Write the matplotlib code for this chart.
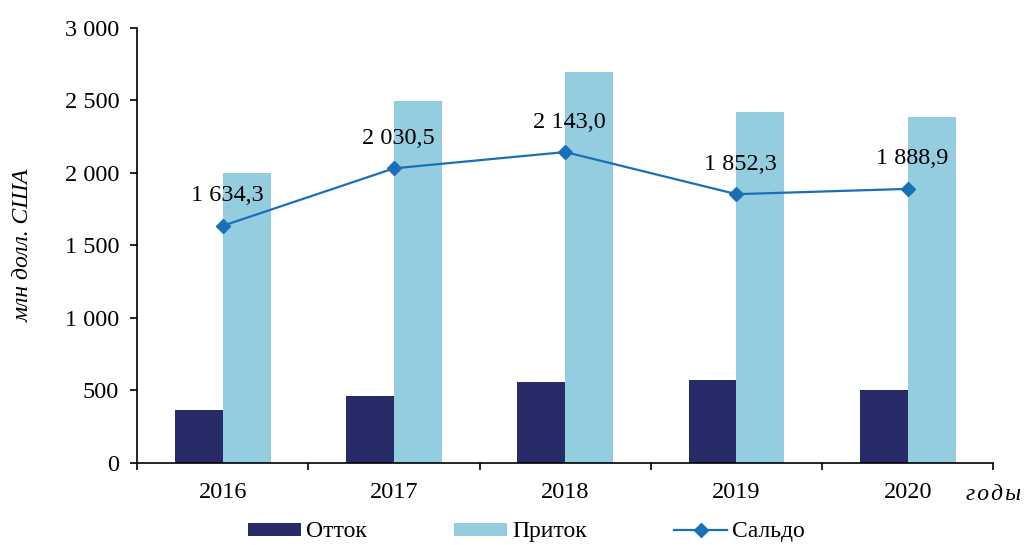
import matplotlib.pyplot as plt
import numpy as np
from matplotlib.ticker import FuncFormatter, FixedLocator

plt.rcParams['font.family'] = ['Liberation Serif', 'DejaVu Serif']

years = ['2016', '2017', '2018', '2019', '2020']
outflow = [367, 462, 554, 568, 501]
inflow = [1995, 2492, 2695, 2418, 2388]
balance = [1634.3, 2030.5, 2143.0, 1852.3, 1888.9]

dark = '#272c69'
light = '#95cde0'
blue = '#1a6fb9'


def spaced(v):
    return f'{v:,.0f}'.replace(',', ' ')


def label(v):
    return f'{v:,.1f}'.replace(',', ' ').replace('.', ',')


fig = plt.figure(figsize=(10.24, 5.45), dpi=100)
ax = fig.add_axes([0.134, 0.151, 0.836, 0.798])

x = np.arange(len(years))
w = 0.28
b1 = ax.bar(x - w / 2, outflow, w, color=dark, label='Отток')
b2 = ax.bar(x + w / 2, inflow, w, color=light, label='Приток')
l1, = ax.plot(x, balance, color=blue, lw=1.6, marker='D', ms=7, label='Сальдо')

for xi, v in zip(x, balance):
    ax.annotate(label(v), (xi, v), xytext=(3, 14), textcoords='offset points',
                ha='center', va='bottom', fontsize=17.5)

ax.set_xlim(-0.5, len(years) - 0.5)
ax.set_ylim(0, 3000)
ax.set_yticks(range(0, 3001, 500))
ax.yaxis.set_major_formatter(FuncFormatter(lambda v, p: spaced(v)))
ax.set_xticks(x)
ax.set_xticklabels(years)
ax.xaxis.set_minor_locator(FixedLocator(np.arange(-0.5, len(years), 1)))
ax.tick_params(axis='x', which='major', length=0, labelsize=17.5, pad=14)
ax.tick_params(axis='x', which='minor', length=5, width=1.2)
ax.tick_params(axis='y', length=5, width=1.2, labelsize=17.5, pad=8)

for s in ['top', 'right']:
    ax.spines[s].set_visible(False)
for s in ['left', 'bottom']:
    ax.spines[s].set_linewidth(1.2)

ax.set_ylabel('млн долл. США', fontsize=17, style='italic', labelpad=22)
fig.text(0.997, 0.083, 'г\u200aо\u200aд\u200aы', fontsize=17, style='italic', ha='right')

fig.legend([b1, b2, l1], ['Отток', 'Приток', 'Сальдо'], loc='center',
           bbox_to_anchor=(0.514, 0.024), ncol=3, frameon=False,
           fontsize=17, handlelength=2.25, handleheight=0.47, columnspacing=3.7,
           handletextpad=0.2, borderaxespad=0, borderpad=0)

fig.savefig('out.png', dpi=100)
